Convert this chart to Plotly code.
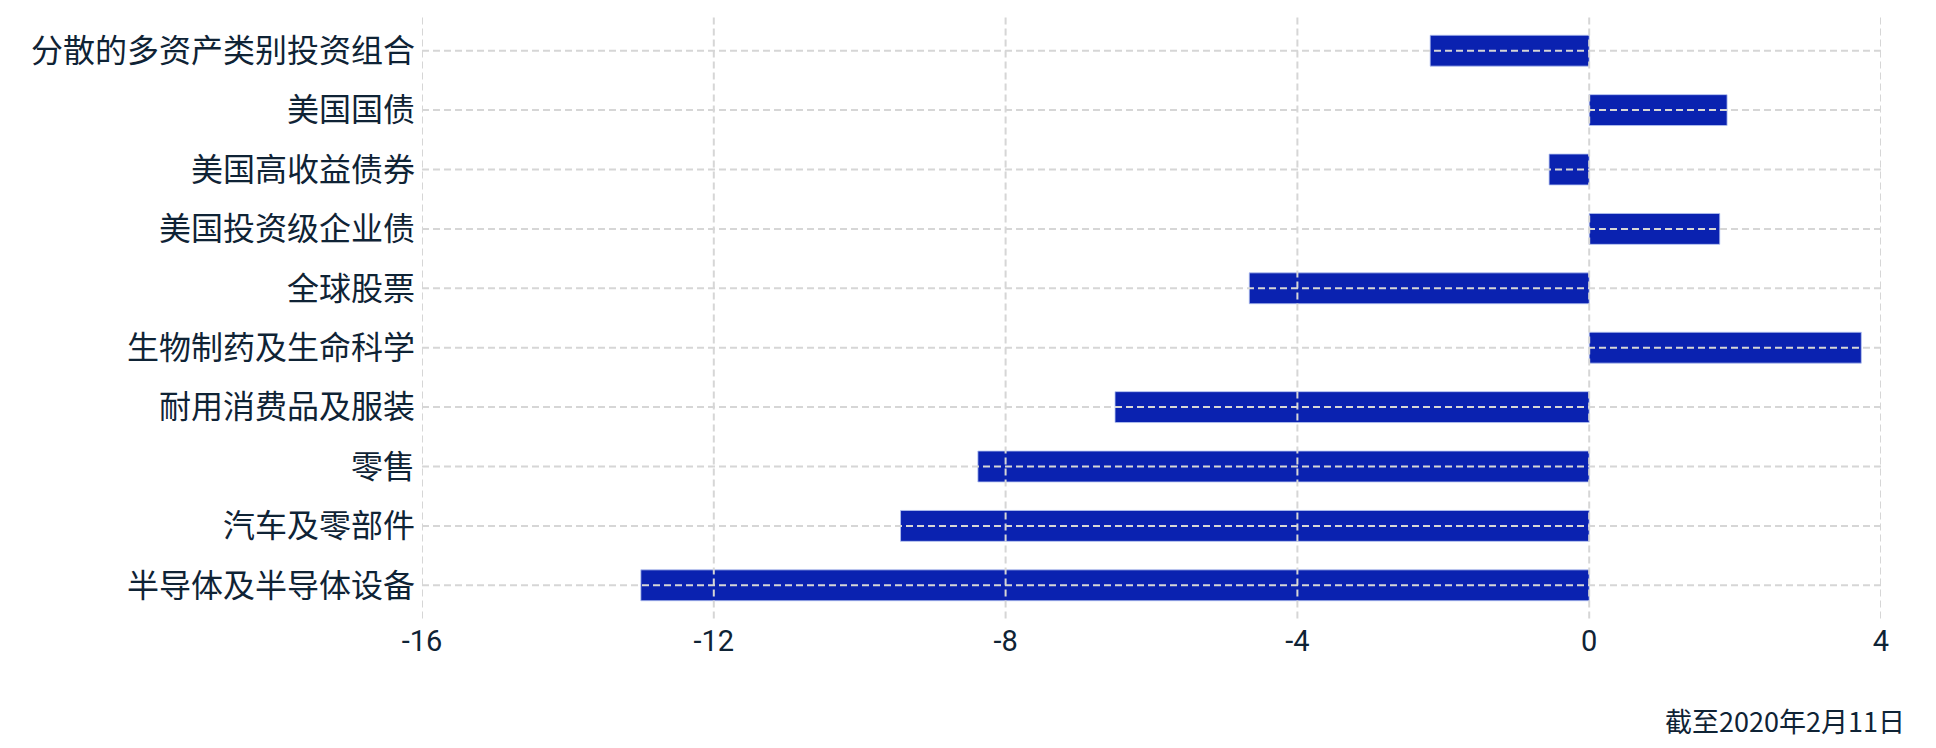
import plotly.graph_objects as go

categories = [
    "分散的多资产类别投资组合",
    "美国国债",
    "美国高收益债券",
    "美国投资级企业债",
    "全球股票",
    "生物制药及生命科学",
    "耐用消费品及服装",
    "零售",
    "汽车及零部件",
    "半导体及半导体设备",
]
values = [-2.18, 1.89, -0.55, 1.79, -4.66, 3.73, -6.5, -8.38, -9.44, -13.0]
x_ticks = [-16, -12, -8, -4, 0, 4]
note_text = "截至2020年2月11日"

TEXT = "#0f2335"
GRID = "#d6d6d6"
CJK = "Noto Sans CJK SC"
DASH = "7px,4px"

fig = go.Figure(
    go.Bar(
        x=values,
        y=categories,
        orientation="h",
        marker=dict(color="#0a22b0", line=dict(color="rgba(180,195,240,0.8)", width=1)),
        width=0.52,
        hoverinfo="x+y",
    )
)

# grid drawn as dashed shapes above the bars (as in the reference)
shapes = []
for v in x_ticks:
    shapes.append(dict(type="line", layer="above", xref="x", yref="paper",
                       x0=v, x1=v, y0=-0.006, y1=1.006,
                       line=dict(color=GRID, width=2, dash=DASH)))
for c in categories:
    shapes.append(dict(type="line", layer="above", xref="paper", yref="y",
                       x0=0, x1=1, y0=c, y1=c,
                       line=dict(color=GRID, width=2, dash=DASH)))

# page body has an 8px default margin; size the figure to fit the 1936x748 window
fig.update_layout(
    width=1920,
    height=732,
    margin=dict(l=414, r=47, t=13, b=125),
    paper_bgcolor="white",
    plot_bgcolor="white",
    showlegend=False,
    font=dict(family=CJK, color=TEXT),
    shapes=shapes,
    annotations=[
        dict(
            text=note_text,
            xref="paper",
            yref="paper",
            x=1.018,
            y=-0.177,
            xanchor="right",
            yanchor="middle",
            showarrow=False,
            font=dict(family=CJK, size=27, color=TEXT),
        )
    ],
)

fig.update_xaxes(
    range=[-16, 4],
    tickvals=x_ticks,
    ticktext=[str(v) for v in x_ticks],
    showgrid=False,
    zeroline=False,
    showline=False,
    ticks="",
    ticklabelstandoff=6,
    tickfont=dict(family="Roboto", size=29, color=TEXT),
)

fig.update_yaxes(
    categoryorder="array",
    categoryarray=categories[::-1],
    range=[-0.5, 9.5],
    showgrid=False,
    zeroline=False,
    showline=False,
    ticks="",
    ticklabelstandoff=6,
    tickfont=dict(family=CJK, size=32, color=TEXT),
)

fig.write_html("out.html")
